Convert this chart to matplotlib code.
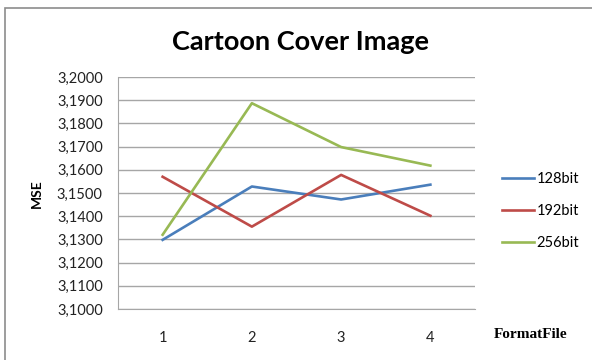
import matplotlib
matplotlib.use("Agg")
import matplotlib.pyplot as plt
from matplotlib.patches import Rectangle

# MSE per format file for each key size
format_files = ["1", "2", "3", "4"]
mse_128 = [3.1298, 3.1528, 3.1472, 3.1536]
mse_192 = [3.1570, 3.1355, 3.1578, 3.1402]
mse_256 = [3.1320, 3.1887, 3.1698, 3.1618]
series_names = ["128bit", "192bit", "256bit"]
y_ticks = [3.10 + i * 0.01 for i in range(11)]

colors = ["#4a7ebb", "#be4b48", "#98b954"]
font = "Lato"

W, H = 592, 360
fig = plt.figure(figsize=(W / 100, H / 100), dpi=100)
fig.patch.set_facecolor("white")

# outer chart border (runs off the right/bottom edge)
fig.patches.append(Rectangle((5 / W, -0.1), 1.2, (H - 8) / H + 0.1,
                             transform=fig.transFigure, fill=False,
                             edgecolor="#8c8c8c", linewidth=1.2))

ax = fig.add_axes([118 / W, 51 / H, (475 - 118) / W, (309 - 77) / H])
x = [i + 0.5 for i in range(len(format_files))]
for vals, c, name in zip([mse_128, mse_192, mse_256], colors, series_names):
    ax.plot(x, vals, color=c, linewidth=1.9, label=name, zorder=3)

ax.set_xlim(0, len(format_files))
ax.set_ylim(3.10, 3.20)
ax.set_yticks(y_ticks)
ax.set_yticklabels([f"{v:.4f}".replace(".", ",") for v in y_ticks],
                   fontsize=10.5, family=font, color="#222222")
ax.set_xticks(x)
ax.set_xticklabels(format_files, fontsize=10.5, family=font, color="#222222")
ax.tick_params(length=0)
ax.tick_params(axis="y", pad=11)
ax.tick_params(axis="x", pad=16)
ax.grid(axis="y", color="#a6a6a6", linewidth=1)
ax.set_axisbelow(True)
for s in ["top", "right"]:
    ax.spines[s].set_visible(False)
for s in ["left", "bottom"]:
    ax.spines[s].set_color("#a6a6a6")

fig.text(300 / W, 1 - 42 / H, "Cartoon Cover Image", ha="center", va="center",
         fontsize=19.5, fontweight="bold", family=font)
fig.text(37 / W, 1 - 194 / H, "MSE", rotation=90, ha="center", va="center",
         fontsize=10, fontweight="bold", family=font)
fig.text(531 / W, 1 - 335 / H, "FormatFile", ha="center", va="center",
         fontsize=11, fontweight="bold", family="Liberation Serif")

ax.legend(loc="center left", bbox_to_anchor=(495 / W, 1 - 211 / H),
          bbox_transform=fig.transFigure, frameon=False,
          prop={"family": font, "size": 10.5}, handlelength=2.2,
          handletextpad=0.15, labelspacing=1.25, borderpad=0)

fig.savefig("out.png", dpi=100)
